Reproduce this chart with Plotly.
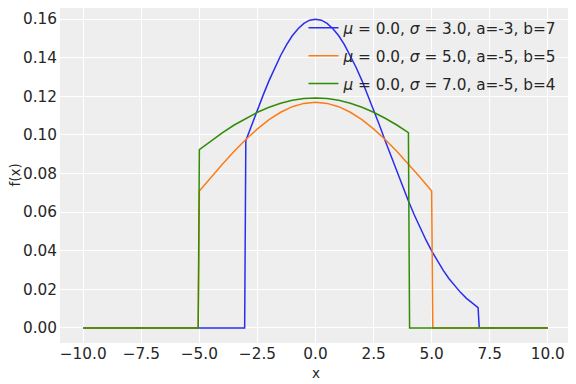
import plotly.graph_objects as go

# Truncated normal pdf curves
x_blue = [-10.0, -3.05, -3.0, -2.75, -2.5, -2.25, -2.0, -1.75, -1.5, -1.25, -1.0, -0.75, -0.5,
          -0.25, 0.0, 0.25, 0.5, 0.75, 1.0, 1.25, 1.5, 1.75, 2.0, 2.25, 2.5, 2.75, 3.0,
          3.25, 3.5, 3.75, 4.0, 4.25, 4.5, 4.75, 5.0, 5.25, 5.5, 5.75, 6.0, 6.25, 6.5,
          6.75, 7.0, 7.05, 10.0]
y_blue = [0.0, 0.0, 0.0970, 0.1051, 0.1130, 0.1207, 0.1281, 0.1349, 0.1411, 0.1466, 0.1513,
          0.1550, 0.1577, 0.1594, 0.1599, 0.1594, 0.1577, 0.1550, 0.1513, 0.1466, 0.1411,
          0.1349, 0.1281, 0.1207, 0.1130, 0.1051, 0.0970, 0.0889, 0.0810, 0.0732, 0.0657,
          0.0586, 0.0519, 0.0457, 0.0399, 0.0346, 0.0298, 0.0255, 0.0216, 0.0183, 0.0153,
          0.0127, 0.0105, 0.0, 0.0]

x_orange = [-10.0, -5.05, -5.0, -4.5, -4.0, -3.5, -3.0, -2.5, -2.0, -1.5, -1.0, -0.5, 0.0,
            0.5, 1.0, 1.5, 2.0, 2.5, 3.0, 3.5, 4.0, 4.5, 5.0, 5.05, 10.0]
y_orange = [0.0, 0.0, 0.0709, 0.0780, 0.0849, 0.0915, 0.0976, 0.1031, 0.1079, 0.1117, 0.1146,
            0.1163, 0.1169, 0.1163, 0.1146, 0.1117, 0.1079, 0.1031, 0.0976, 0.0915, 0.0849,
            0.0780, 0.0709, 0.0, 0.0]

x_green = [-10.0, -5.05, -5.0, -4.5, -4.0, -3.5, -3.0, -2.5, -2.0, -1.5, -1.0, -0.5, 0.0,
           0.5, 1.0, 1.5, 2.0, 2.5, 3.0, 3.5, 4.0, 4.05, 10.0]
y_green = [0.0, 0.0, 0.0923, 0.0969, 0.1011, 0.1051, 0.1086, 0.1117, 0.1143, 0.1164, 0.1179,
           0.1188, 0.1191, 0.1188, 0.1179, 0.1164, 0.1143, 0.1117, 0.1086, 0.1051, 0.1011,
           0.0, 0.0]

labels = [
    "<i>μ</i> = 0.0, <i>σ</i> = 3.0, a=-3, b=7",
    "<i>μ</i> = 0.0, <i>σ</i> = 5.0, a=-5, b=5",
    "<i>μ</i> = 0.0, <i>σ</i> = 7.0, a=-5, b=4",
]
colors = ["#2a2eec", "#fa7c17", "#328c06"]

x_ticks = [-10.0, -7.5, -5.0, -2.5, 0.0, 2.5, 5.0, 7.5, 10.0]
x_tick_text = ["−10.0", "−7.5", "−5.0", "−2.5", "0.0", "2.5", "5.0", "7.5", "10.0"]
y_ticks = [0.00, 0.02, 0.04, 0.06, 0.08, 0.10, 0.12, 0.14, 0.16]
y_tick_text = ["0.00", "0.02", "0.04", "0.06", "0.08", "0.10", "0.12", "0.14", "0.16"]

fig = go.Figure()
for i, (xs, ys, lab, col) in enumerate(zip([x_blue, x_orange, x_green],
                                            [y_blue, y_orange, y_green], labels, colors)):
    fig.add_trace(go.Scatter(x=xs, y=ys, mode="lines", name=lab, legendgroup=f"g{i}",
                             line=dict(color=col, width=1.5)))

fig.update_layout(
    width=568, height=376,
    margin=dict(l=52, r=5, t=0, b=41),
    paper_bgcolor="white",
    plot_bgcolor="#eeeeee",
    font=dict(family="DejaVu Sans", size=15.3, color="#262626"),
    showlegend=True,
    legend=dict(x=0.4765, y=0.99, xanchor="left", yanchor="top",
                bgcolor="rgba(0,0,0,0)", font=dict(size=15.3), tracegroupgap=5,
                itemwidth=30),
    annotations=[
        dict(text="x", xref="paper", yref="paper", x=0.5, y=0, yanchor="middle",
             yshift=-30, showarrow=False, font=dict(size=13.5)),
        dict(text="f(x)", xref="paper", yref="paper", x=0, y=0.5, xanchor="center",
             xshift=-46, textangle=-90, showarrow=False, font=dict(size=13.5)),
    ],
)
fig.update_xaxes(range=[-11, 11], tickvals=x_ticks, ticktext=x_tick_text,
                 showgrid=True, gridcolor="white", gridwidth=1, zeroline=False,
                 showline=False, ticks="", automargin=False)
fig.update_yaxes(range=[-0.0078, 0.1657], tickvals=y_ticks, ticktext=y_tick_text,
                 showgrid=True, gridcolor="white", gridwidth=1, zeroline=False,
                 showline=False, ticks="", automargin=False, ticklabelstandoff=2)

fig.write_html("out.html")
